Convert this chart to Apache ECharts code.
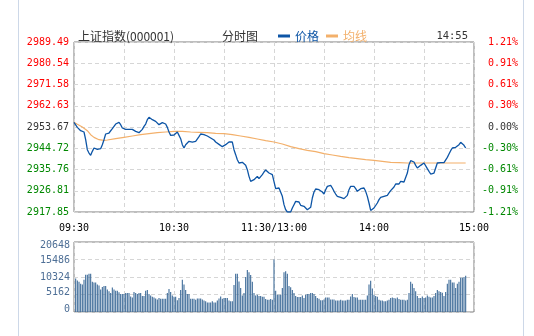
<!DOCTYPE html>
<html><head><meta charset="utf-8">
<script src="https://cdn.jsdelivr.net/npm/echarts@6/dist/echarts.min.js"></script>
<style>html,body{margin:0;padding:0;background:#fff}#c{width:534px;height:336px}</style>
</head><body><div id="c"></div>
<script>
// ---- data ----
const timeTicks = ['09:30', '10:30', '11:30/13:00', '14:00', '15:00'];
const priceTicks = ['2917.85', '2926.81', '2935.76', '2944.72', '2953.67', '2962.63', '2971.58', '2980.54', '2989.49'];
const pctTicks = ['-1.21%', '-0.91%', '-0.61%', '-0.30%', '0.00%', '0.30%', '0.61%', '0.91%', '1.21%'];
const volTicks = ['0', '5162', '10324', '15486', '20648'];
const priceMin = 2917.85;
const priceMax = 2989.49;
const volMax = 20648;

// price per minute, index 0 = 09:30, 120 = 11:30/13:00, 240 = 15:00 (ends 14:55)
const price = [
  2955.63, 2955.35, 2953.52, 2952.96, 2952.12, 2951.84, 2951.56, 2948.33, 2944.11, 2942.71,
  2941.73, 2943.41, 2944.82, 2944.54, 2944.25, 2944.11, 2944.54, 2946.22, 2948.33, 2950.72,
  2951.42, 2951.14, 2951.84, 2952.96, 2953.95, 2954.93, 2955.63, 2955.63, 2954.65, 2953.24,
  2952.96, 2952.68, 2952.68, 2952.68, 2952.68, 2952.68, 2952.40, 2951.84, 2951.28, 2951.28,
  2951.84, 2952.68, 2953.95, 2954.93, 2956.75, 2957.74, 2957.46, 2956.75, 2956.33, 2956.05,
  2955.49, 2954.65, 2955.49, 2955.49, 2955.49, 2954.93, 2953.52, 2951.56, 2950.15, 2950.15,
  2950.30, 2951.00, 2951.56, 2950.15, 2948.75, 2946.22, 2944.82, 2946.22, 2947.06, 2947.63,
  2947.63, 2947.34, 2947.34, 2947.63, 2948.47, 2949.59, 2950.72, 2950.72, 2950.43, 2950.15,
  2949.87, 2949.59, 2949.03, 2948.61, 2948.19, 2947.34, 2946.78, 2946.36, 2945.94, 2945.38,
  2945.10, 2946.22, 2946.92, 2947.34, 2947.63, 2947.34, 2944.11, 2942.01, 2939.90, 2938.50,
  2938.07, 2938.78, 2938.50, 2937.51, 2935.69, 2932.88, 2930.77, 2930.07, 2931.47, 2932.18,
  2932.88, 2931.89, 2932.46, 2933.58, 2934.70, 2935.55, 2934.98, 2934.28, 2933.86, 2933.58,
  2933.58, 2927.68, 2927.26, 2927.96, 2927.26, 2924.45, 2920.94, 2918.83, 2917.85, 2917.85,
  2917.85, 2919.54, 2920.94, 2922.34, 2923.05, 2922.06, 2920.66, 2919.82, 2920.24, 2919.54,
  2918.83, 2919.25, 2919.82, 2923.75, 2926.28, 2927.54, 2927.68, 2927.26, 2927.26, 2926.28,
  2925.43, 2927.26, 2928.66, 2928.95, 2929.09, 2927.96, 2926.56, 2925.43, 2924.45, 2924.03,
  2924.03, 2923.47, 2923.47, 2924.03, 2924.87, 2927.26, 2928.66, 2929.09, 2928.66, 2927.68,
  2926.56, 2926.84, 2927.68, 2927.96, 2927.96, 2926.56, 2924.45, 2921.64, 2918.50, 2917.85,
  2919.54, 2919.54, 2921.64, 2923.05, 2924.03, 2924.87, 2924.45, 2924.45, 2924.87, 2925.86,
  2926.84, 2927.68, 2928.38, 2929.65, 2929.65, 2929.65, 2930.77, 2930.49, 2930.49, 2931.05,
  2934.28, 2937.79, 2939.48, 2939.90, 2938.92, 2937.51, 2936.39, 2937.09, 2937.51, 2938.07,
  2938.50, 2937.79, 2936.11, 2934.98, 2933.86, 2933.86, 2934.28, 2936.39, 2938.50, 2938.78,
  2938.64, 2938.50, 2938.64, 2939.20, 2940.88, 2942.29, 2943.69, 2944.82, 2945.10, 2945.10,
  2945.24, 2946.22, 2947.20, 2946.78, 2945.94, 2944.82
];

// average line, read at sampled minutes
const avgMinute = [0, 2, 5, 8, 10, 12, 15, 18, 20, 25, 30, 35, 40, 45, 50, 55, 60, 65, 70, 75, 80, 85, 90, 95, 100,
  105, 110, 115, 120, 125, 130, 135, 140, 145, 150, 155, 160, 165, 170, 175, 180, 185, 190, 195, 200, 210, 220, 235];
const avgPrice = [2955.63, 2954.79, 2953.66, 2952.12, 2950.43, 2949.31, 2948.33, 2948.05, 2948.19, 2948.75,
  2949.31, 2949.87, 2950.43, 2950.86, 2951.28, 2951.56, 2951.84, 2951.84, 2951.56, 2951.42, 2951.28, 2951.00,
  2950.86, 2950.43, 2949.87, 2949.31, 2948.61, 2947.91, 2947.34, 2946.50, 2945.38, 2944.54, 2943.83, 2943.27,
  2942.43, 2941.87, 2941.30, 2940.74, 2940.32, 2939.90, 2939.62, 2939.20, 2938.78, 2938.64, 2938.50, 2938.50,
  2938.50, 2938.50];

// volume per minute, index 1 .. 235
const volume = [
  9900, 9300, 8900, 8300, 8100, 9500, 11000, 11000, 11300, 11300, 8900, 8700, 8700, 8100, 7800, 6600, 7400, 7700, 7700, 6600, 6100, 5600, 7200, 6600, 6300, 6300, 5800, 5300, 5300, 5300,
  5600, 5600, 5600, 4600, 4300, 5900, 5600, 5300, 5600, 5600, 4700, 4700, 6300, 6500, 5300, 4900, 4500, 4300, 4000, 3700, 4100, 3900, 3900, 3900, 3900, 5600, 6800, 5900, 4900, 4500,
  4500, 3500, 4100, 6500, 9500, 8100, 6500, 5300, 5300, 3900, 3900, 3900, 3600, 4000, 4000, 4000, 3700, 3400, 3200, 2800, 2800, 2800, 3200, 2800, 2800, 3400, 4000, 4600, 3900, 4100,
  4100, 4100, 3400, 3200, 3200, 8000, 11300, 11300, 9000, 7100, 4900, 5600, 10300, 12400, 11700, 10900, 8900, 5600, 4900, 5100, 4700, 4700, 4500, 4500, 3800, 3600, 3600, 3800, 3600, 15500,
  6300, 5100, 5100, 5100, 7100, 11700, 12000, 11300, 7700, 7300, 6500, 5600, 4700, 4400, 4400, 4400, 4900, 4100, 5100, 5300, 5300, 5600, 5600, 5300, 4700, 4100, 3900, 3500, 3500, 3700,
  4300, 4300, 4300, 3700, 3700, 3700, 3400, 3400, 3400, 3600, 3400, 3400, 3400, 3600, 3600, 4600, 5300, 4400, 4300, 4300, 3600, 3600, 3600, 3600, 3600, 4900, 8100, 9200, 6900, 5100,
  4700, 4500, 3600, 3400, 3400, 3200, 3200, 3400, 3600, 4100, 4300, 4100, 4000, 4300, 3800, 3600, 3600, 3600, 3400, 3600, 5600, 8900, 8300, 7100, 6100, 4700, 4100, 4100, 4600, 4100,
  4300, 4900, 4500, 4300, 4300, 4700, 5600, 6500, 6100, 5900, 5700, 4700, 5900, 8300, 9500, 9500, 8700, 8700, 7100, 8300, 8900, 10100, 10100, 10300, 10700
];

// ---- chart ----
const MONO = '"DejaVu Sans Mono", "Liberation Mono", monospace';
const CJK = '"Noto Sans CJK SC", sans-serif';
const BLUE = '#0d55a6', ORANGE = '#f3b06b', BAR = '#3f6c99';
const step = (priceMax - priceMin) / 8;
const tickIdx = v => Math.round((v - priceMin) / step);
const tickColor = i => i > 4 ? '#ff0000' : (i === 4 ? '#333333' : '#008800');
const dashed = { lineStyle: { color: '#d6d6d6', type: [4, 3], width: 1 } };

const chart = echarts.init(document.getElementById('c'), null, { renderer: 'canvas' });
chart.setOption({
  animation: false,
  backgroundColor: '#fff',
  title: [
    { text: '上证指数(000001)', left: 73, top: 25, textStyle: { fontFamily: CJK, fontSize: 12, fontWeight: 'normal', color: '#333' } },
    { text: '分时图', left: 217, top: 25, textStyle: { fontFamily: CJK, fontSize: 12, fontWeight: 'normal', color: '#333' } },
    { text: '14:55', right: 61, top: 26, textStyle: { fontFamily: MONO, fontSize: 10.5, fontWeight: 'normal', color: '#333' } }
  ],
  legend: {
    left: 273, top: 25, itemWidth: 12, itemHeight: 3, itemGap: 7, icon: 'rect',
    textStyle: { fontFamily: CJK, fontSize: 12 },
    data: [
      { name: '价格', textStyle: { color: BLUE } },
      { name: '均线', textStyle: { color: ORANGE } }
    ]
  },
  graphic: [
    { type: 'rect', shape: { x: 18, y: 0, width: 1, height: 336 }, style: { fill: '#cdd8e8' }, silent: true },
    { type: 'rect', shape: { x: 523, y: 0, width: 1, height: 336 }, style: { fill: '#cdd8e8' }, silent: true }
  ],
  grid: [
    { left: 74, top: 42, width: 400, height: 170, show: true, borderColor: '#7d7d7d', borderWidth: 1, backgroundColor: 'transparent' },
    { left: 74, top: 242, width: 400, height: 70, show: true, borderColor: '#7d7d7d', borderWidth: 1, backgroundColor: 'transparent' }
  ],
  xAxis: [
    {
      gridIndex: 0, type: 'value', min: 0, max: 240, interval: 30,
      axisLine: { show: false }, axisTick: { show: false },
      axisLabel: {
        margin: 11, fontFamily: MONO, fontSize: 10, color: '#000',
        showMinLabel: true, showMaxLabel: true,
        formatter: v => (v % 60 === 0 ? timeTicks[v / 60] : '')
      },
      splitLine: Object.assign({ show: true }, dashed)
    },
    {
      gridIndex: 1, type: 'value', min: 0, max: 240, interval: 30,
      axisLine: { show: false }, axisTick: { show: false }, axisLabel: { show: false },
      splitLine: Object.assign({ show: true }, dashed)
    }
  ],
  yAxis: [
    {
      gridIndex: 0, type: 'value', min: priceMin, max: priceMax, interval: step,
      axisLine: { show: false }, axisTick: { show: false },
      axisLabel: {
        margin: 5, fontFamily: MONO, fontSize: 10,
        formatter: v => priceTicks[tickIdx(v)],
        color: v => tickColor(tickIdx(Number(v)))
      },
      splitLine: Object.assign({ show: true }, dashed)
    },
    {
      gridIndex: 0, type: 'value', position: 'right', min: priceMin, max: priceMax, interval: step,
      axisLine: { show: false }, axisTick: { show: false }, splitLine: { show: false },
      axisLabel: {
        margin: 44, align: 'right', fontFamily: MONO, fontSize: 10,
        formatter: v => pctTicks[tickIdx(v)],
        color: v => tickColor(tickIdx(Number(v)))
      }
    },
    {
      gridIndex: 1, type: 'value', min: 0, max: volMax, interval: volMax / 4,
      axisLine: { show: false }, axisTick: { show: false },
      axisLabel: {
        margin: 4,
        formatter: (v) => {
          const i = Math.round(v / (volMax / 4));
          const key = ['b', 'm1', 'm2', 'm3', 't'][i];
          return '{' + key + '|' + volTicks[i] + '}';
        },
        rich: {
          t: { fontFamily: MONO, fontSize: 10, color: '#4e6f96', padding: [6, 0, 0, 0] },
          m3: { fontFamily: MONO, fontSize: 10, color: '#4e6f96', padding: [2, 0, 0, 0] },
          m2: { fontFamily: MONO, fontSize: 10, color: '#4e6f96' },
          m1: { fontFamily: MONO, fontSize: 10, color: '#4e6f96', padding: [0, 0, 4, 0] },
          b: { fontFamily: MONO, fontSize: 10, color: '#4e6f96', padding: [0, 0, 6, 0] }
        }
      },
      splitLine: Object.assign({ show: true }, dashed)
    }
  ],
  series: [
    {
      name: '价格', type: 'line', xAxisIndex: 0, yAxisIndex: 0, symbol: 'none',
      data: price.map((v, i) => [i, v]),
      itemStyle: { color: BLUE }, lineStyle: { color: BLUE, width: 1.3 }, z: 4
    },
    {
      name: '均线', type: 'line', xAxisIndex: 0, yAxisIndex: 0, symbol: 'none',
      data: avgMinute.map((m, i) => [m, avgPrice[i]]),
      itemStyle: { color: ORANGE }, lineStyle: { color: ORANGE, width: 1.2 }, z: 3
    },
    {
      name: '成交量', type: 'bar', xAxisIndex: 1, yAxisIndex: 2, barWidth: 1.1,
      data: volume.map((v, i) => [i + 1, v]),
      itemStyle: { color: BAR }
    }
  ]
});
</script>
</body></html>
